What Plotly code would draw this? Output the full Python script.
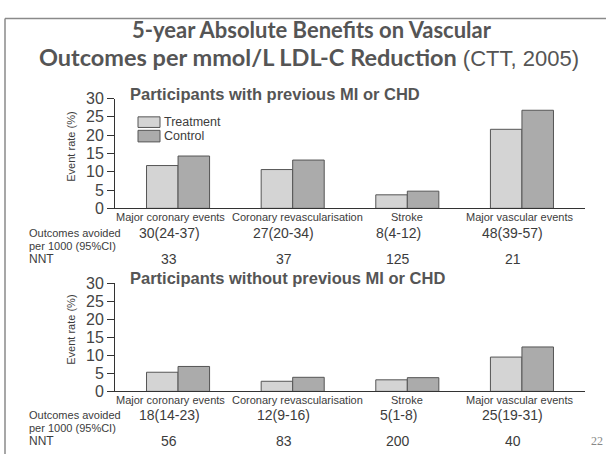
import plotly.graph_objects as go

# ---- data ----
categories = ["Major coronary events", "Coronary revascularisation", "Stroke", "Major vascular events"]

treatment_prev = [11.7, 10.6, 3.7, 21.6]
control_prev = [14.3, 13.2, 4.7, 26.8]
treatment_noprev = [5.3, 2.8, 3.2, 9.5]
control_noprev = [6.9, 3.9, 3.8, 12.3]

avoided_prev = ["30(24-37)", "27(20-34)", "8(4-12)", "48(39-57)"]
nnt_prev = ["33", "37", "125", "21"]
avoided_noprev = ["18(14-23)", "12(9-16)", "5(1-8)", "25(19-31)"]
nnt_noprev = ["56", "83", "200", "40"]

y_ticks = [0, 5, 10, 15, 20, 25, 30]

# ---- styling ----
W, H = 606, 463
C_TREAT = "#d4d4d4"
C_CTRL = "#ababab"
C_EDGE = "#555555"
C_TEXT = "#3c3c3c"
C_TITLE = "#555555"
SANS = "Liberation Sans, Arial, sans-serif"
label_shift = [-8, 5, 0, -2]   # horizontal nudge of category captions (px)


def px(x):
    return x / W


def py(y):
    return (H - y) / H


fig = go.Figure()

panels = [
    ("x", "y", treatment_prev, control_prev),
    ("x2", "y2", treatment_noprev, control_noprev),
]
for xa, ya, tr, ct in panels:
    fig.add_trace(go.Bar(x=categories, y=tr, name="Treatment", xaxis=xa, yaxis=ya,
                         marker=dict(color=C_TREAT, line=dict(color=C_EDGE, width=1)),
                         showlegend=False))
    fig.add_trace(go.Bar(x=categories, y=ct, name="Control", xaxis=xa, yaxis=ya,
                         marker=dict(color=C_CTRL, line=dict(color=C_EDGE, width=1)),
                         showlegend=False))

x_dom = [px(115), px(585)]
top_dom = [py(208), py(94)]
bot_dom = [py(398), py(285.5)]

xaxis_style = dict(
    domain=x_dom, range=[-0.55, 3.55], type="category",
    showline=True, linecolor="#333333", linewidth=1,
    ticks="", showgrid=False, zeroline=False, showticklabels=False,
    fixedrange=True,
)
yaxis_style = dict(
    range=[0, 30], tickvals=y_ticks,
    showline=True, linecolor="#333333", linewidth=1,
    ticks="outside", ticklen=7, tickcolor="#333333", tickwidth=1,
    showgrid=False, zeroline=False,
    tickfont=dict(family=SANS, size=16, color="#444444"),
    fixedrange=True,
)

fig.update_layout(
    width=W, height=H,
    margin=dict(l=0, r=0, t=0, b=0),
    paper_bgcolor="white", plot_bgcolor="white",
    barmode="group", bargap=0.45, bargroupgap=0,
    xaxis=dict(**xaxis_style, anchor="y"),
    yaxis=dict(**yaxis_style, domain=top_dom, anchor="x"),
    xaxis2=dict(**xaxis_style, anchor="y2"),
    yaxis2=dict(**yaxis_style, domain=bot_dom, anchor="x2"),
    showlegend=False,
)

ann = []

# main title
ann.append(dict(text="<b>5-year Absolute Benefits on Vascular</b>",
                x=px(312), y=py(22), xref="paper", yref="paper",
                xanchor="center", yanchor="middle", showarrow=False,
                font=dict(family="Lato, sans-serif", size=22, color=C_TITLE)))
ann.append(dict(text="<b>Outcomes per mmol/L LDL-C Reduction</b> "
                     "<span style='font-family:Liberation Sans, Arial, sans-serif;font-size:22px'>"
                     "(CTT, 2005)</span>",
                x=px(309), y=py(51), xref="paper", yref="paper",
                xanchor="center", yanchor="middle", showarrow=False,
                font=dict(family="Lato, sans-serif", size=23.5, color=C_TITLE)))

# panel titles
for txt, yy in [("Participants with previous MI or CHD", 89),
                ("Participants without previous MI or CHD", 280)]:
    ann.append(dict(text="<b>" + txt + "</b>", x=px(128), y=py(yy),
                    xref="paper", yref="paper", xanchor="left", yanchor="middle",
                    showarrow=False,
                    font=dict(family=SANS, size=16.5, color=C_TITLE)))

# y-axis titles
for yy in [144, 334]:
    ann.append(dict(text="Event rate (%)", x=px(71), y=py(yy),
                    xref="paper", yref="paper", xanchor="center", yanchor="middle",
                    textangle=-90, showarrow=False,
                    font=dict(family=SANS, size=11, color=C_TEXT)))

# category captions under each axis
for xa, ycap in [("x", 217), ("x2", 407)]:
    for cat, dx in zip(categories, label_shift):
        ann.append(dict(text=cat, x=cat, y=py(ycap), xref=xa, yref="paper", xshift=dx,
                        xanchor="center", yanchor="middle", showarrow=False,
                        font=dict(family=SANS, size=11, color=C_TEXT)))

# legend (top panel)
shapes = []
for (label, col, y0, y1) in [("Treatment", C_TREAT, 113, 124), ("Control", C_CTRL, 127, 139)]:
    shapes.append(dict(type="rect", xref="paper", yref="paper",
                       x0=px(138), x1=px(160), y0=py(y1), y1=py(y0),
                       fillcolor=col, line=dict(color=C_EDGE, width=1)))
    ann.append(dict(text=label, x=px(163), y=py((y0 + y1) / 2),
                    xref="paper", yref="paper", xanchor="left", yanchor="middle",
                    showarrow=False, borderpad=0,
                    font=dict(family=SANS, size=12.5, color=C_TEXT)))

# table rows under each panel
for xa, avoided, nnt, rows in [("x", avoided_prev, nnt_prev, (234, 247, 261)),
                               ("x2", avoided_noprev, nnt_noprev, (423, 436, 450))]:
    r1, r2, r3 = rows
    ann.append(dict(text="Outcomes avoided", x=px(27), y=py(r1), xref="paper", yref="paper",
                    xanchor="left", yanchor="middle", showarrow=False,
                    font=dict(family=SANS, size=11, color=C_TEXT)))
    ann.append(dict(text="per 1000 (95%CI)", x=px(27), y=py(r2), xref="paper", yref="paper",
                    xanchor="left", yanchor="middle", showarrow=False,
                    font=dict(family=SANS, size=11, color=C_TEXT)))
    ann.append(dict(text="NNT", x=px(27), y=py(r3), xref="paper", yref="paper",
                    xanchor="left", yanchor="middle", showarrow=False,
                    font=dict(family=SANS, size=12, color=C_TEXT)))
    for cat, a, n in zip(categories, avoided, nnt):
        ann.append(dict(text=a, x=cat, y=py(r1), xref=xa, yref="paper", xshift=-9,
                        xanchor="center", yanchor="middle", showarrow=False,
                        font=dict(family=SANS, size=14, color=C_TEXT)))
        ann.append(dict(text=n, x=cat, y=py(r3), xref=xa, yref="paper", xshift=-9,
                        xanchor="center", yanchor="middle", showarrow=False,
                        font=dict(family=SANS, size=14, color=C_TEXT)))

# slide number
ann.append(dict(text="22", x=px(605), y=py(449), xref="paper", yref="paper",
                xanchor="right", yanchor="middle", showarrow=False,
                font=dict(family="Liberation Serif, serif", size=12, color="#888888")))

# slide frame
shapes.append(dict(type="line", xref="paper", yref="paper",
                   x0=px(5), x1=1, y0=py(11), y1=py(11),
                   line=dict(color="#8a8a8a", width=1.5)))
shapes.append(dict(type="line", xref="paper", yref="paper",
                   x0=px(5), x1=px(5), y0=py(11), y1=0,
                   line=dict(color="#8a8a8a", width=1.5)))

fig.update_layout(annotations=ann, shapes=shapes)

fig.write_html("out.html")
